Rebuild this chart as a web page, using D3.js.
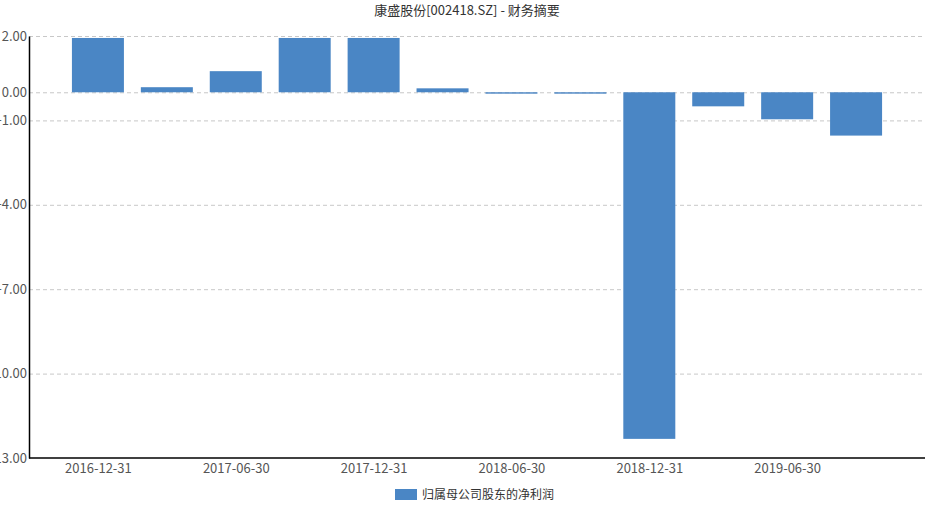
<!DOCTYPE html>
<html>
<head>
  <meta charset="utf-8">
  <script src="https://cdn.jsdelivr.net/npm/d3@7/dist/d3.min.js"></script>
  <style>
    body { margin: 0; background: #fff; }
    svg text { font-family: "Noto Sans CJK SC", "Open Sans", sans-serif; }
  </style>
</head>
<body>
  <svg id="chart" width="935" height="514"></svg>
  <script>
    var periods = ['2016-12-31', '2017-03-31', '2017-06-30', '2017-09-30', '2017-12-31', '2018-03-31',
      '2018-06-30', '2018-09-30', '2018-12-31', '2019-03-31', '2019-06-30', '2019-09-30'];
    var netProfit = [1.93, 0.18, 0.75, 1.93, 1.93, 0.14, -0.05, -0.05, -12.32, -0.5, -0.96, -1.54];
    var yTicks = [2, 0, -1, -4, -7, -10, -13];
    var xTickLabels = ['2016-12-31', '2017-06-30', '2017-12-31', '2018-06-30', '2018-12-31', '2019-06-30'];

    var svg = d3.select('#chart'),
      mLeft = 29, mRight = 925, mTop = 36, mBottom = 458;

    var x = d3.scalePoint().domain(periods).range([mLeft, mRight]).padding(1);
    var y = d3.scaleLinear().domain([-13, 2]).range([mBottom, mTop]);
    var bw = 52;

    // grid
    svg.append('g').selectAll('line').data(yTicks.filter(d => d !== -13)).join('line')
      .attr('x1', mLeft).attr('x2', mRight)
      .attr('y1', d => y(d) + 0.5).attr('y2', d => y(d) + 0.5)
      .attr('stroke', '#c8c8c8').attr('stroke-dasharray', '4,3');

    svg.append('g').selectAll('rect').data(netProfit).join('rect')
      .attr('x', (d, i) => x(periods[i]) - bw / 2)
      .attr('width', bw)
      .attr('y', d => y(Math.max(0, d)))
      .attr('height', d => Math.max(1, Math.abs(y(d) - y(0))))
      .attr('fill', '#4a86c5');

    // y axis
    var ya = svg.append('g').attr('transform', 'translate(' + mLeft + ',0)')
      .call(d3.axisLeft(y).tickValues(yTicks).tickFormat(d3.format('.2f')).tickSize(0).tickPadding(2));
    ya.select('.domain').attr('stroke', '#000').attr('stroke-width', 1.5);
    ya.selectAll('text').attr('font-size', 13).attr('fill', '#555');

    // x axis
    var xa = svg.append('g').attr('transform', 'translate(0,' + mBottom + ')')
      .call(d3.axisBottom(x).tickValues(xTickLabels).tickSize(0).tickPadding(6));
    xa.select('.domain').attr('d', 'M' + mLeft + ',0H' + mRight).attr('stroke', '#000').attr('stroke-width', 1.5);
    xa.selectAll('text').attr('font-size', 13).attr('fill', '#555');

    svg.append('text').attr('x', 467).attr('y', 15).attr('text-anchor', 'middle')
      .attr('font-size', 13).attr('fill', '#333').text('康盛股份[002418.SZ] - 财务摘要');

    svg.append('rect').attr('x', 395).attr('y', 489).attr('width', 22).attr('height', 11).attr('fill', '#4a86c5');
    svg.append('text').attr('x', 422).attr('y', 499).attr('font-size', 12).attr('fill', '#333').text('归属母公司股东的净利润');
  </script>
</body>
</html>
